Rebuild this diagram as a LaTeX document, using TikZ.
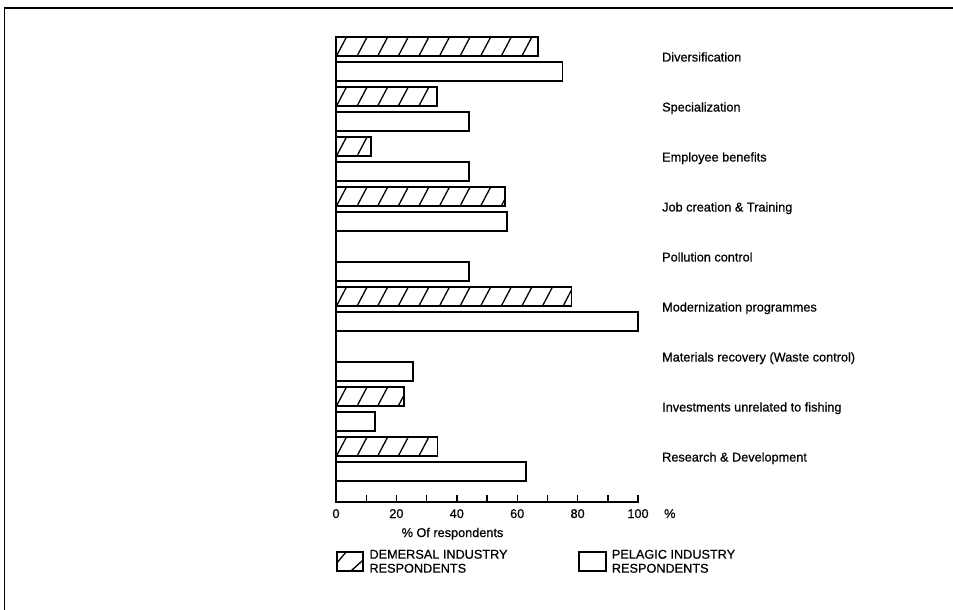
\documentclass[tikz,border=0pt]{standalone}
\usepackage{fontspec}
\setmainfont{Liberation Sans}[FakeBold=0.6]
\usetikzlibrary{calc}
\begin{document}
\begin{tikzpicture}[x=1pt,y=-1pt,
  frame/.style={line width=1.8pt},
  axisline/.style={line width=1.8pt},
  tickmark/.style={line width=1.4pt},
  barbase/.style={draw, line width=1.8pt, anchor=north west, inner sep=0pt,
    outer sep=0pt, minimum height=19pt},
  hatched/.style={path picture={
      \foreach \k in {0,...,16}
        \draw[line width=1.3pt]
          ($(path picture bounding box.south west)+({\k*20.6-2},5)$) -- ++(15.8,-30);}},
  dem/.style={barbase, hatched},
  pel/.style={barbase, fill=white},
  lab/.style={inner sep=0pt, font=\fontsize{12.7}{14}\selectfont},
  catlabel/.style={lab, anchor=base west},
  keybox/.style={draw, line width=1.8pt, anchor=north west, inner sep=0pt,
    outer sep=0pt, minimum width=26.6pt, minimum height=19.3pt},
]
\useasboundingbox (0,0) rectangle (953,610);

% page frame (top and left rules)
\draw[frame] (4.5,610) -- (4.5,8) -- (953,8);

% axes
\coordinate (top) at (336,36);
\coordinate (origin) at (336,502);
\coordinate (xend) at (638.5,502);
\draw[axisline] (top) -- (origin) -- (xend);
\foreach \k in {1,...,10}
  \draw[tickmark] ($(origin)+(30.2*\k,0)$) -- ++(0,-7);
\foreach \v [count=\j from 0] in {0,20,40,60,80,100}
  \node[lab, anchor=base] (t\v) at (336+60.4*\j,518) {\v};
\node[lab, anchor=base west] (pct) at (664,518) {\%};
\node[lab, anchor=base] (xtitle) at (452.5,537) {\% Of respondents};

% bars: demersal (hatched) above pelagic (open) for each measure
\node[dem, minimum width={67*3.02pt}]   (d1) at (336,36.7)  {};
\node[pel, minimum width={75*3.02pt}]   (p1) at (336,61.7)  {};
\node[dem, minimum width={33.5*3.02pt}] (d2) at (336,86.7)  {};
\node[pel, minimum width={44*3.02pt}]   (p2) at (336,111.7) {};
\node[dem, minimum width={11.6*3.02pt}] (d3) at (336,136.7) {};
\node[pel, minimum width={44*3.02pt}]   (p3) at (336,161.7) {};
\node[dem, minimum width={56*3.02pt}]   (d4) at (336,186.7) {};
\node[pel, minimum width={56.5*3.02pt}] (p4) at (336,211.7) {};
\node[pel, minimum width={44*3.02pt}]   (p5) at (336,261.7) {};
\node[dem, minimum width={78*3.02pt}]   (d6) at (336,286.7) {};
\node[pel, minimum width={100*3.02pt}]  (p6) at (336,311.7) {};
\node[pel, minimum width={25.6*3.02pt}] (p7) at (336,361.7) {};
\node[dem, minimum width={22.6*3.02pt}] (d8) at (336,386.7) {};
\node[pel, minimum width={13*3.02pt}]   (p8) at (336,411.7) {};
\node[dem, minimum width={33.6*3.02pt}] (d9) at (336,436.7) {};
\node[pel, minimum width={62.8*3.02pt}] (p9) at (336,461.7) {};

% measure names
\node[catlabel] (l1) at (662,61.5)  {Diversification};
\node[catlabel] (l2) at (662,111.5) {Specialization};
\node[catlabel] (l3) at (662,161.5) {Employee benefits};
\node[catlabel] (l4) at (662,211.5) {Job creation \& Training};
\node[catlabel] (l5) at (662,261.5) {Pollution control};
\node[catlabel] (l6) at (662,311.5) {Modernization programmes};
\node[catlabel] (l7) at (662,361.5) {Materials recovery (Waste control)};
\node[catlabel] (l8) at (662,411.5) {Investments unrelated to fishing};
\node[catlabel] (l9) at (662,461.5) {Research \& Development};

% key
\node[keybox, path picture={
    \draw[line width=1.3pt] ($(path picture bounding box.north west)+(0,11.5)$) -- ++(10.5,-12.5);
    \draw[line width=1.3pt] ($(path picture bounding box.south east)+(-13,0.5)$) -- ++(13.5,-12);
  }] (kd) at (336.7,551.7) {};
\node[lab, anchor=west, align=left] (kdt) at (369.3,561.3) {DEMERSAL INDUSTRY\\RESPONDENTS};
\node[keybox] (kp) at (579.3,551.7) {};
\node[lab, anchor=west, align=left] (kpt) at (611.7,561.3) {PELAGIC INDUSTRY\\RESPONDENTS};
\end{tikzpicture}
\end{document}
